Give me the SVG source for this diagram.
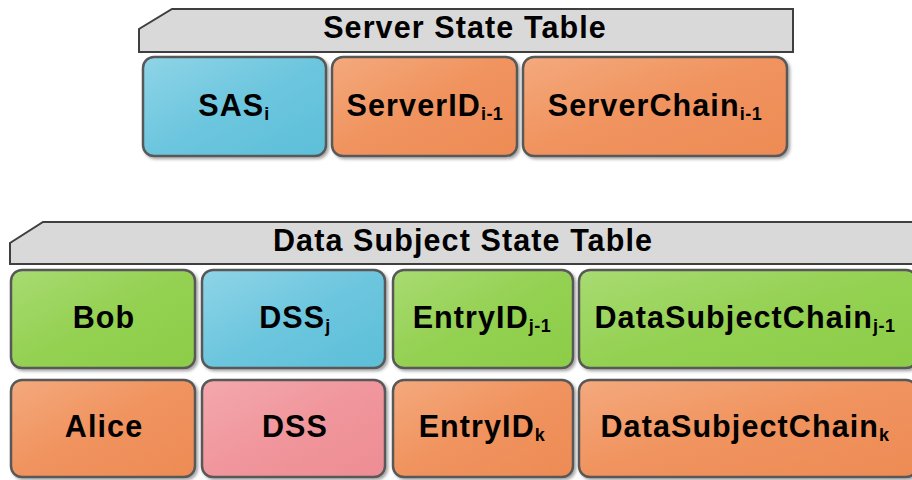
<svg xmlns="http://www.w3.org/2000/svg" width="912" height="480" viewBox="0 0 912 480">
  <defs>
    <linearGradient id="gBlue" x1="0" y1="0" x2="1" y2="1">
      <stop offset="0" stop-color="#8fd4e7"/>
      <stop offset="0.5" stop-color="#6cc6de"/>
      <stop offset="1" stop-color="#5dbfd8"/>
    </linearGradient>
    <linearGradient id="gOrange" x1="0" y1="0" x2="1" y2="1">
      <stop offset="0" stop-color="#f4a97d"/>
      <stop offset="0.5" stop-color="#f0935e"/>
      <stop offset="1" stop-color="#ee8b55"/>
    </linearGradient>
    <linearGradient id="gGreen" x1="0" y1="0" x2="1" y2="1">
      <stop offset="0" stop-color="#a8db72"/>
      <stop offset="0.5" stop-color="#94d152"/>
      <stop offset="1" stop-color="#8ccd48"/>
    </linearGradient>
    <linearGradient id="gPink" x1="0" y1="0" x2="1" y2="1">
      <stop offset="0" stop-color="#f3a8ad"/>
      <stop offset="0.5" stop-color="#f0969c"/>
      <stop offset="1" stop-color="#ee8d93"/>
    </linearGradient>
    <filter id="shadow" x="-5%" y="-5%" width="115%" height="120%">
      <feDropShadow dx="2" dy="2" stdDeviation="1.5" flood-color="#000" flood-opacity="0.35"/>
    </filter>
  </defs>
  <style>
    .cell { stroke: #595959; stroke-width: 2.5; filter: url(#shadow); }
    .hdr { fill: #d9d9d9; stroke: #3f3f3f; stroke-width: 2; }
    .lbl { font-family: "Liberation Sans", Arial, sans-serif; font-weight: bold; font-size: 30.5px; letter-spacing: 1.1px; fill: #000; text-anchor: middle; }
    .sub { font-size: 18px; letter-spacing: 0.5px; }
    .blue { fill: url(#gBlue); }
    .orange { fill: url(#gOrange); }
    .green { fill: url(#gGreen); }
    .pink { fill: url(#gPink); }
  </style>

  <!-- Server state table -->
  <g id="server-header">
    <path class="hdr" d="M139,52 L139,29 L172,9 L793,9 L793,52 Z"/>
    <text class="lbl" x="465" y="38">Server State Table</text>
  </g>
  <g id="sas">
    <rect class="cell blue" x="143" y="57" width="183" height="99" rx="11"/>
    <text class="lbl" x="234" y="116">SAS<tspan class="sub" dy="4">i</tspan></text>
  </g>
  <g id="server-id">
    <rect class="cell orange" x="332" y="57" width="185" height="99" rx="11"/>
    <text class="lbl" x="425" y="116">ServerID<tspan class="sub" dy="4">i-1</tspan></text>
  </g>
  <g id="server-chain">
    <rect class="cell orange" x="523" y="57" width="264" height="99" rx="11"/>
    <text class="lbl" x="655" y="116">ServerChain<tspan class="sub" dy="4">i-1</tspan></text>
  </g>

  <!-- Data subject state table -->
  <g id="subject-header">
    <path class="hdr" d="M10,264 L10,243 L43,222 L916,222 L916,264 Z"/>
    <text class="lbl" x="463" y="251">Data Subject State Table</text>
  </g>
  <g id="bob">
    <rect class="cell green" x="11" y="270" width="184" height="98" rx="11"/>
    <text class="lbl" x="104" y="328">Bob</text>
  </g>
  <g id="dss-j">
    <rect class="cell blue" x="202" y="270" width="183" height="98" rx="11"/>
    <text class="lbl" x="295" y="328">DSS<tspan class="sub" dy="4">j</tspan></text>
  </g>
  <g id="entry-id-j">
    <rect class="cell green" x="393" y="270" width="180" height="98" rx="11"/>
    <text class="lbl" x="482" y="328">EntryID<tspan class="sub" dy="4">j-1</tspan></text>
  </g>
  <g id="subject-chain-j">
    <rect class="cell green" x="579" y="270" width="338" height="98" rx="11"/>
    <text class="lbl" x="745" y="328">DataSubjectChain<tspan class="sub" dy="4">j-1</tspan></text>
  </g>
  <g id="alice">
    <rect class="cell orange" x="11" y="380" width="184" height="97" rx="11"/>
    <text class="lbl" x="104" y="437">Alice</text>
  </g>
  <g id="dss">
    <rect class="cell pink" x="202" y="380" width="183" height="97" rx="11"/>
    <text class="lbl" x="295" y="437">DSS</text>
  </g>
  <g id="entry-id-k">
    <rect class="cell orange" x="393" y="380" width="180" height="97" rx="11"/>
    <text class="lbl" x="482" y="437">EntryID<tspan class="sub" dy="4">k</tspan></text>
  </g>
  <g id="subject-chain-k">
    <rect class="cell orange" x="579" y="380" width="338" height="97" rx="11"/>
    <text class="lbl" x="745" y="437">DataSubjectChain<tspan class="sub" dy="4">k</tspan></text>
  </g>

  <g id="connectors"/>
</svg>
